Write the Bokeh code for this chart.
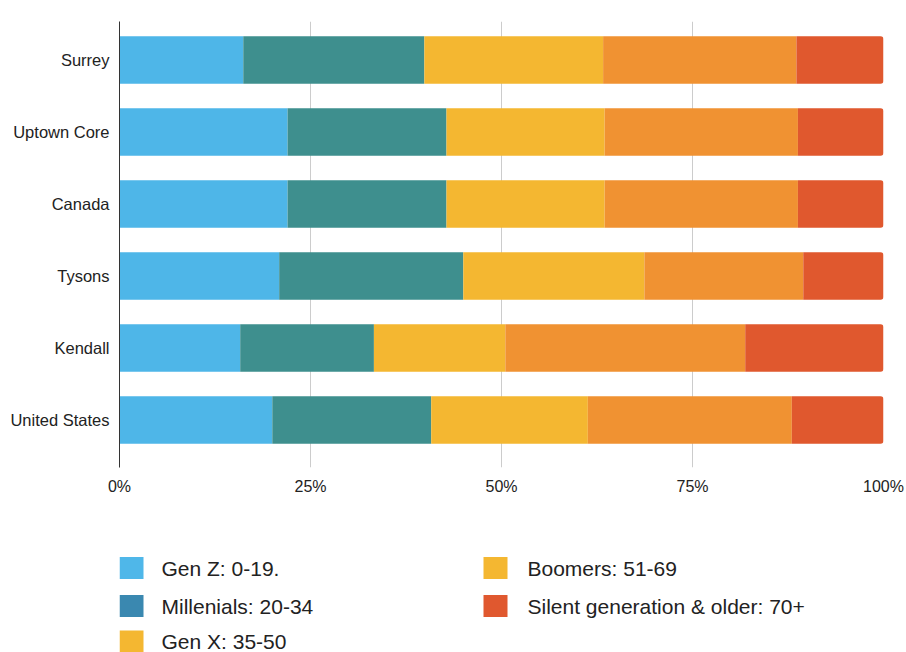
import numpy as np
from bokeh.plotting import figure
from bokeh.layouts import column
from bokeh.models import ColumnDataSource, Range1d, FixedTicker
from bokeh.core.properties import value
from bokeh.embed import file_html
from bokeh.resources import INLINE

# ---- data (percent of population by generation) ----
regions = ["Surrey", "Uptown Core", "Canada", "Tysons", "Kendall", "United States"]
gen_z      = [16.2, 22.0, 22.0, 20.9, 15.8, 20.0]
millenials = [23.7, 20.8, 20.8, 24.1, 17.5, 20.8]
gen_x      = [23.4, 20.7, 20.7, 23.7, 17.2, 20.5]
boomers    = [25.3, 25.3, 25.3, 20.8, 31.4, 26.7]
silent     = [11.4, 11.2, 11.2, 10.5, 18.1, 12.1]

series_names = ["Gen Z", "Millenials", "Gen X", "Boomers", "Silent"]
bar_colors = ["#4EB6E8", "#3E8F8E", "#F4B731", "#F09232", "#E0582E"]

legend_labels = ["Gen Z: 0-19.", "Millenials: 20-34", "Gen X: 35-50",
                 "Boomers: 51-69", "Silent generation & older: 70+"]
legend_colors = ["#4FB7E9", "#3A88B0", "#F4B731", "#F4B731", "#E0582F"]

x_ticks = [0, 25, 50, 75, 100]
x_tick_labels = ["0%", "25%", "50%", "75%", "100%"]

FONT = "Liberation Sans"
TXT = "#222222"
FRAME_L, FRAME_R = 119, 883

# ---- main chart ----
ypos = list(range(len(regions)))
p = figure(width=906, height=510, output_backend="svg", toolbar_location=None,
           x_range=Range1d(0, 100),
           y_range=Range1d(len(regions) - 1 + 47.5 / 72, -38.5 / 72),
           min_border_left=FRAME_L, min_border_right=906 - FRAME_R,
           min_border_top=21, min_border_bottom=43)
p.outline_line_color = None
p.background_fill_color = "white"
p.border_fill_color = "white"

vals = np.array([gen_z, millenials, gen_x, boomers, silent])
cum = np.cumsum(vals, axis=0)
for i, name in enumerate(series_names):
    left = cum[i - 1] if i > 0 else np.zeros(len(regions))
    right = cum[i]
    if i == len(series_names) - 1:
        right = np.full(len(regions), 100.0)
    src = ColumnDataSource(dict(y=ypos, left=left, right=right))
    kw = {}
    if i == len(series_names) - 1:
        kw["border_radius"] = (0, 3, 3, 0)
    p.hbar(y="y", left="left", right="right", height=0.66, source=src,
           fill_color=bar_colors[i], line_color=None, **kw)

# axes
p.xaxis.ticker = FixedTicker(ticks=x_ticks)
p.xaxis.major_label_overrides = {t: l for t, l in zip(x_ticks, x_tick_labels)}
p.xaxis.axis_line_color = None
p.xaxis.major_tick_line_color = None
p.xaxis.minor_tick_line_color = None
p.xaxis.major_label_standoff = 4
p.xaxis.major_label_text_font = FONT
p.xaxis.major_label_text_font_size = "16px"
p.xaxis.major_label_text_color = TXT

p.yaxis.ticker = FixedTicker(ticks=ypos)
p.yaxis.major_label_overrides = {i: r for i, r in zip(ypos, regions)}
p.yaxis.axis_line_color = "#333333"
p.yaxis.axis_line_width = 1
p.yaxis.major_tick_line_color = None
p.yaxis.minor_tick_line_color = None
p.yaxis.major_label_standoff = 4
p.yaxis.major_label_text_font = FONT
p.yaxis.major_label_text_font_size = "16.5px"
p.yaxis.major_label_text_color = TXT

p.xgrid.ticker = FixedTicker(ticks=x_ticks)
p.xgrid.grid_line_color = "#CCCCCC"
p.xgrid.grid_line_width = 1
p.ygrid.grid_line_color = None

# ---- legend panel (coordinates in screen pixels) ----
lg = figure(width=906, height=142, output_backend="svg", toolbar_location=None,
            x_range=Range1d(FRAME_L, FRAME_R), y_range=Range1d(142, 0),
            min_border_left=FRAME_L, min_border_right=906 - FRAME_R,
            min_border_top=0, min_border_bottom=0)
lg.outline_line_color = None
lg.xaxis.visible = False
lg.yaxis.visible = False
lg.grid.visible = False

col_sq_x = [131, 495]
col_txt_x = [161, 527]
row_y = [57.5, 95.5, 131]
sq_x, sq_y, tx_x, tx_y = [], [], [], []
for k in range(len(legend_labels)):
    c = 0 if k < 3 else 1
    r = k if k < 3 else k - 3
    sq_x.append(col_sq_x[c]); sq_y.append(row_y[r])
    tx_x.append(col_txt_x[c]); tx_y.append(row_y[r])
lsrc = ColumnDataSource(dict(sx=sq_x, sy=sq_y, tx=tx_x, ty=tx_y,
                             label=legend_labels, color=legend_colors))
lg.rect(x="sx", y="sy", width=24, height=22, source=lsrc,
        fill_color="color", line_color=None)
lg.text(x="tx", y="ty", text="label", source=lsrc,
        text_font=value(FONT), text_font_size="21px", text_color=TXT,
        text_baseline="middle", text_align="left")

layout = column(p, lg, spacing=0)
open("out.html", "w").write(file_html(layout, INLINE))
